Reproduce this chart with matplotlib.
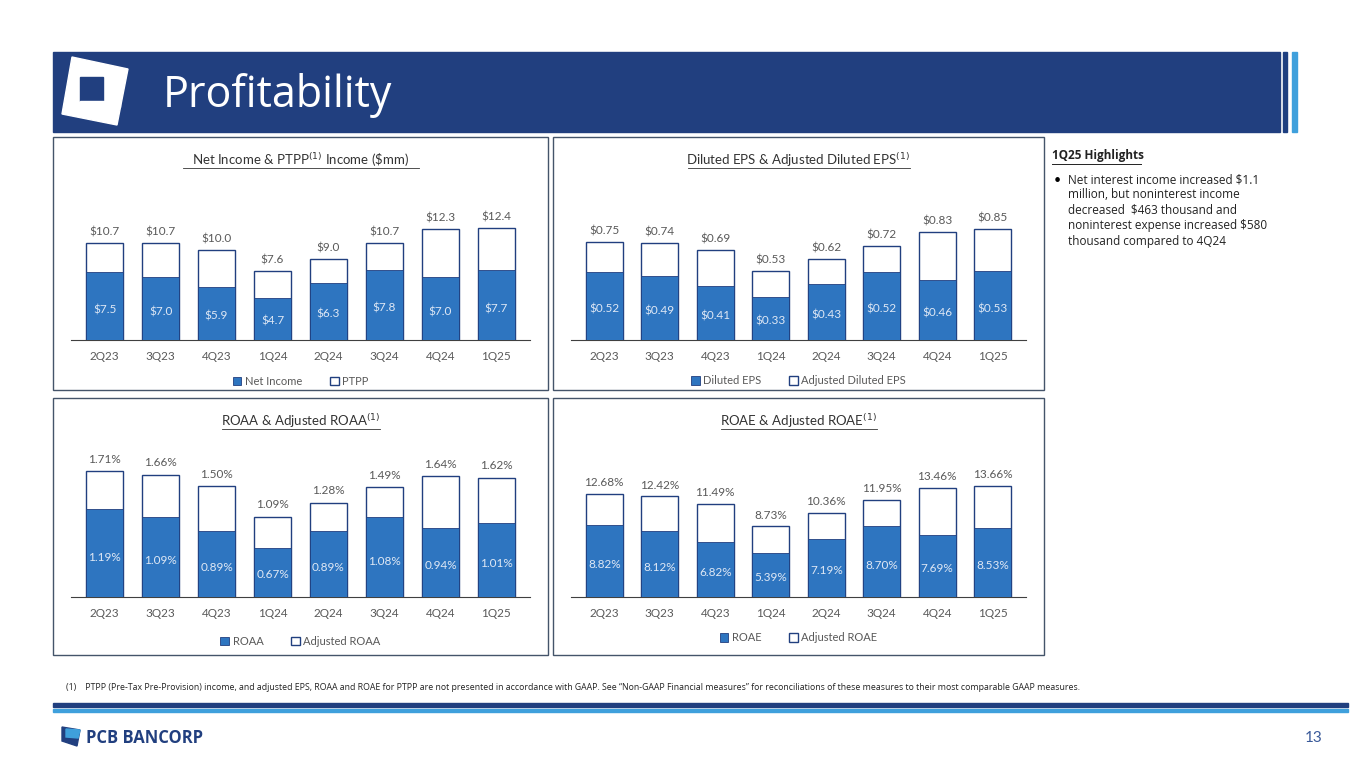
import matplotlib.pyplot as plt
from matplotlib.patches import Rectangle, Polygon
import numpy as np

plt.rcParams['font.family'] = ['Lato', 'DejaVu Sans']

quarters = ['2Q23', '3Q23', '4Q23', '1Q24', '2Q24', '3Q24', '4Q24', '1Q25']
net_income = [7.5, 7.0, 5.9, 4.7, 6.3, 7.8, 7.0, 7.7]
ptpp = [10.7, 10.7, 10.0, 7.6, 9.0, 10.7, 12.3, 12.4]
eps = [0.52, 0.49, 0.41, 0.33, 0.43, 0.52, 0.46, 0.53]
adj_eps = [0.75, 0.74, 0.69, 0.53, 0.62, 0.72, 0.83, 0.85]
roaa = [1.19, 1.09, 0.89, 0.67, 0.89, 1.08, 0.94, 1.01]
adj_roaa = [1.71, 1.66, 1.50, 1.09, 1.28, 1.49, 1.64, 1.62]
roae = [8.82, 8.12, 6.82, 5.39, 7.19, 8.70, 7.69, 8.53]
adj_roae = [12.68, 12.42, 11.49, 8.73, 10.36, 11.95, 13.46, 13.66]

W, H = 1365, 768
NAVY = '#213f7f'
BLUE = '#2e75c0'
GREY = '#595959'

fig = plt.figure(figsize=(W / 100, H / 100), dpi=100)
bg = fig.add_axes([0, 0, 1, 1])
bg.set_xlim(0, W)
bg.set_ylim(H, 0)
bg.axis('off')

# header
bg.add_patch(Rectangle((53, 52), 1227, 80, color=NAVY))
bg.add_patch(Rectangle((1283, 52), 4, 80, color='#1e3f80'))
bg.add_patch(Rectangle((1292, 52), 5, 80, color='#3fa0dc'))
bg.add_patch(Polygon([[72, 57], [128, 69], [117, 125], [62, 114]], color='white'))
bg.add_patch(Rectangle((80, 77), 23, 24, color=NAVY))
bg.add_patch(Rectangle((80, 101), 40, 6, color='white'))
bg.text(163, 96, 'Profitability', color='white', fontsize=31, va='center',
        family=['Calibri', 'Open Sans', 'DejaVu Sans'])

# footer
bg.add_patch(Rectangle((53, 703), 1295, 4, color=NAVY))
bg.add_patch(Rectangle((53, 709), 1295, 3, color='#3fa0dc'))
bg.text(66, 688, '(1)    PTPP (Pre-Tax Pre-Provision) income, and adjusted EPS, ROAA and ROAE for PTPP are not presented in accordance with GAAP. '
        'See \u201cNon-GAAP Financial measures\u201d for reconciliations of these measures to their most comparable GAAP measures.',
        fontsize=6.3, color='#222222', va='center', family=['Open Sans', 'DejaVu Sans'])
bg.add_patch(Polygon([[62, 727], [80, 730], [77, 746], [62, 741]], color=NAVY))
bg.add_patch(Polygon([[66, 729], [80, 730], [78, 738], [66, 737]], color='#3fa0dc'))
bg.text(86, 738, 'PCB BANCORP', fontsize=12, fontweight='bold', color=NAVY, va='center',
        family=['Open Sans', 'DejaVu Sans'])
bg.text(1305, 738, '13', fontsize=11, color='#3a5a9a', va='center')

# highlights
bg.text(1052, 156, '1Q25 Highlights', fontsize=8.5, fontweight='bold', color='#222222', va='center',
        family=['Open Sans', 'DejaVu Sans'])
bg.plot([1052, 1141], [164, 164], color='#222222', lw=0.7)
bg.text(1054, 180, '\u2022', fontsize=9, va='center')
bg.text(1068, 173, 'Net interest income increased $1.1\nmillion, but noninterest income\n'
        'decreased  $463 thousand and\nnoninterest expense increased $580\nthousand compared to 4Q24',
        fontsize=8.5, va='top', color='#222222', linespacing=1.25, family=['Open Sans', 'DejaVu Sans'])

panels = [
    (53, 137, 495, 253, 'Net Income & PTPP$^{(1)}$ Income (\\$mm)', 236, net_income, ptpp, 'Net Income', 'PTPP',
     lambda v: f'${v:.1f}', 340, 228),
    (553, 137, 491, 253, 'Diluted EPS & Adjusted Diluted EPS$^{(1)}$', 222, eps, adj_eps, 'Diluted EPS',
     'Adjusted Diluted EPS', lambda v: f'${v:.2f}', 340, 229),
    (53, 398, 495, 257, 'ROAA & Adjusted ROAA$^{(1)}$', 158, roaa, adj_roaa, 'ROAA', 'Adjusted ROAA',
     lambda v: f'{v:.2f}%', 597, 471),
    (553, 398, 491, 257, 'ROAE & Adjusted ROAE$^{(1)}$', 156, roae, adj_roae, 'ROAE', 'Adjusted ROAE',
     lambda v: f'{v:.2f}%', 597, 486),
]

for (px, py, pw, ph, title, tw, inner, outer, l1, l2, fmt, base, topy) in panels:
    bg.add_patch(Rectangle((px, py), pw, ph, fill=False, edgecolor='#44546a', lw=1))
    bg.text(px + pw / 2, py + 23, title, ha='center', va='center', fontsize=9.5, color='#333333')
    bg.plot([px + pw / 2 - tw / 2, px + pw / 2 + tw / 2], [py + 31, py + 31], color='#333333', lw=0.6)
    ymax = max(outer)
    top_ax = base - (base - topy) * 1.35
    ax = fig.add_axes([(px + 18) / W, 1 - base / H, (pw - 36) / W, (base - top_ax) / H])
    ax.patch.set_visible(False)
    x = np.arange(len(quarters))
    ax.bar(x, outer, width=0.66, color='white', edgecolor=NAVY, lw=1.0, label=l2, zorder=2)
    ax.bar(x, inner, width=0.66, color=BLUE, edgecolor=NAVY, lw=0.6, label=l1, zorder=3)
    ax.set_ylim(0, ymax * 1.35)
    ax.set_xlim(-0.6, len(quarters) - 0.4)
    for i in x:
        ax.text(i, outer[i] + ymax * 0.05, fmt(outer[i]), ha='center', va='bottom', fontsize=8.5, color=GREY)
        ax.text(i, inner[i] * 0.45, fmt(inner[i]), ha='center', va='center', fontsize=8.5, color='#dfe8f5', zorder=4)
    ax.set_xticks(x)
    ax.set_xticklabels(quarters, fontsize=8.5, color=GREY)
    ax.tick_params(length=0, pad=8)
    ax.set_yticks([])
    for s in ['top', 'right', 'left']:
        ax.spines[s].set_visible(False)
    ax.spines['bottom'].set_color('#404040')
    h, lab = ax.get_legend_handles_labels()
    ax.legend(h[::-1], lab[::-1], loc='upper center', bbox_to_anchor=(0.5, -0.17), ncol=2, frameon=False,
              fontsize=8, handlelength=0.8, handleheight=0.8, columnspacing=2.5, handletextpad=0.3,
              labelcolor=GREY)

fig.savefig('out.png', dpi=100)
